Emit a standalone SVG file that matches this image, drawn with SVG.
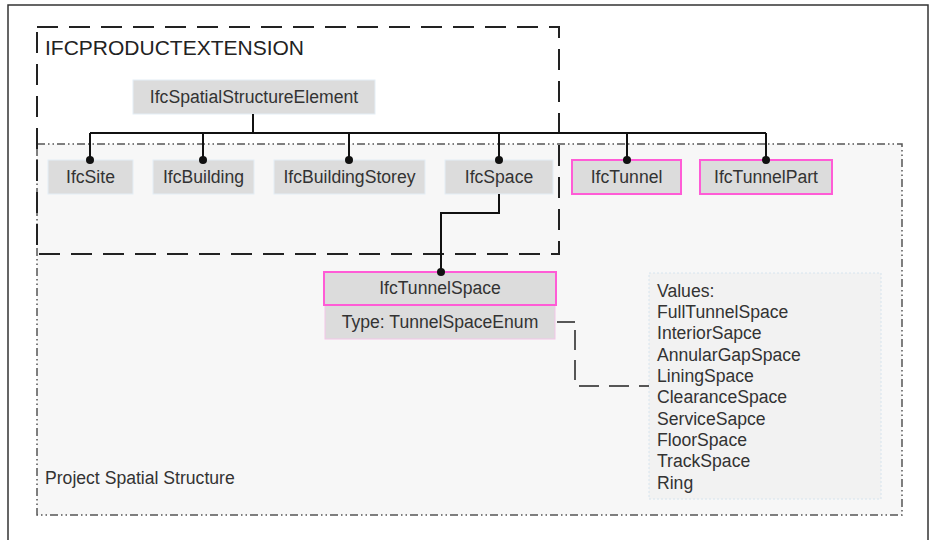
<svg xmlns="http://www.w3.org/2000/svg" width="936" height="540" viewBox="0 0 936 540">
<defs>
<style>
text{font-family:"Liberation Sans",Arial,sans-serif;fill:#333;}
.lbl{font-size:17.6px;text-anchor:middle;}
.box{fill:#dcdcdc;stroke:#e4eef6;stroke-width:1;}
.pink{fill:#dcdcdc;stroke:#ff5cd6;stroke-width:2;}
.conn{fill:none;stroke:#111;stroke-width:2;}
.dot{fill:#111;}
.val{font-size:17.6px;}
</style>
</defs>
<rect x="0" y="0" width="936" height="540" fill="#fff"/>
<rect x="8" y="5" width="920" height="545" fill="#fff" stroke="#333" stroke-width="1.5"/>
<g id="project-spatial-structure">
<rect x="37" y="144" width="865" height="371" fill="#f7f7f7" stroke="#555" stroke-width="1.5" stroke-dasharray="8 3 1.5 3 1.5 3"/>
<text x="45" y="484" style="font-size:17.6px">Project Spatial Structure</text>
</g>
<g id="ifcproductextension">
<rect x="37" y="27" width="522" height="227" fill="none" stroke="#222" stroke-width="2" stroke-dasharray="21 11"/>
<text x="45" y="55" style="font-size:21px;fill:#222">IFCPRODUCTEXTENSION</text>
</g>
<g id="IfcSpatialStructureElement">
<rect class="box" x="133" y="80" width="242" height="34"/>
<text class="lbl" x="254" y="103">IfcSpatialStructureElement</text>
</g>
<g id="IfcSite">
<rect class="box" x="48" y="160" width="85" height="34"/>
<text class="lbl" x="90.5" y="183">IfcSite</text>
</g>
<g id="IfcBuilding">
<rect class="box" x="153" y="160" width="101" height="34"/>
<text class="lbl" x="203.5" y="183">IfcBuilding</text>
</g>
<g id="IfcBuildingStorey">
<rect class="box" x="274" y="160" width="151" height="34"/>
<text class="lbl" x="349.5" y="183">IfcBuildingStorey</text>
</g>
<g id="IfcSpace">
<rect class="box" x="445" y="160" width="108" height="34"/>
<text class="lbl" x="499" y="183">IfcSpace</text>
</g>
<g id="IfcTunnel">
<rect class="pink" x="572" y="160" width="109" height="34"/>
<text class="lbl" x="626.5" y="183">IfcTunnel</text>
</g>
<g id="IfcTunnelPart">
<rect class="pink" x="700" y="160" width="132" height="34"/>
<text class="lbl" x="766" y="183">IfcTunnelPart</text>
</g>
<g id="IfcTunnelSpace">
<rect x="325" y="305" width="230" height="34" fill="#dcdcdc" stroke="#f3c6e8" stroke-width="1"/>
<rect class="pink" x="324" y="272" width="232" height="33"/>
<text class="lbl" x="440" y="294">IfcTunnelSpace</text>
<text class="lbl" x="440" y="328">Type: TunnelSpaceEnum</text>
</g>
<g id="TunnelSpaceEnumValues">
<rect x="649" y="273" width="232" height="226" fill="#f2f2f2" stroke="#d6e4ee" stroke-width="1" stroke-dasharray="2 2"/>
<text class="val" x="657" y="297">Values:</text>
<text class="val" x="657" y="318">FullTunnelSpace</text>
<text class="val" x="657" y="339">InteriorSapce</text>
<text class="val" x="657" y="361">AnnularGapSpace</text>
<text class="val" x="657" y="382">LiningSpace</text>
<text class="val" x="657" y="403">ClearanceSpace</text>
<text class="val" x="657" y="425">ServiceSapce</text>
<text class="val" x="657" y="446">FloorSpace</text>
<text class="val" x="657" y="467">TrackSpace</text>
<text class="val" x="657" y="489">Ring</text>
</g>
<g id="connectors">
<path class="conn" d="M253 114V133M90 133H766M90 133V160M203 133V160M349 133V160M499 133V160M627 133V160M766 133V160"/>
<path class="conn" d="M499 194V213H441V272"/>
<circle class="dot" cx="90" cy="160" r="4"/>
<circle class="dot" cx="203" cy="160" r="4"/>
<circle class="dot" cx="349" cy="160" r="4"/>
<circle class="dot" cx="499" cy="160" r="4"/>
<circle class="dot" cx="627" cy="160" r="4"/>
<circle class="dot" cx="766" cy="160" r="4"/>
<circle class="dot" cx="441" cy="272" r="4"/>
<path fill="none" stroke="#222" stroke-width="1.5" d="M557 322H575"/>
<path fill="none" stroke="#222" stroke-width="1.5" stroke-dasharray="20 10" d="M575 330V386H649"/>
</g>
</svg>
